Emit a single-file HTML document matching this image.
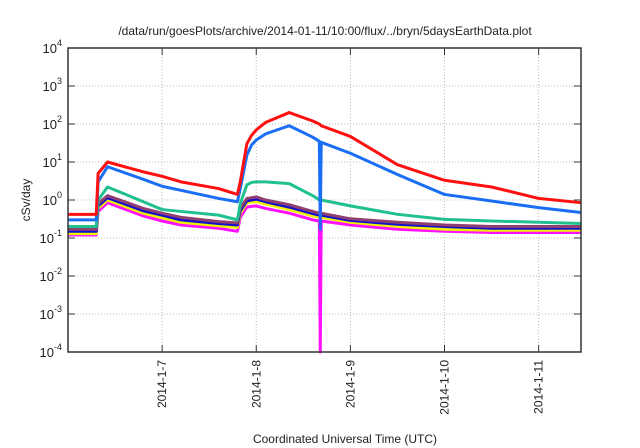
<!DOCTYPE html>
<html><head><meta charset="utf-8"><style>
body{margin:0;background:#fff}
svg{display:block;font-family:"Liberation Sans",sans-serif}
</style></head><body>
<svg id="c" width="640" height="448">
<text x="325" y="35" text-anchor="middle" font-size="12" fill="#222">/data/run/goesPlots/archive/2014-01-11/10:00/flux/../bryn/5daysEarthData.plot</text>
<text x="345" y="443" text-anchor="middle" font-size="12" fill="#222">Coordinated Universal Time (UTC)</text>
<text transform="translate(30,200) rotate(-90)" text-anchor="middle" font-size="12" fill="#222">cSv/day</text>
<g id="grid"></g><g id="series"></g><g id="axes"></g>
</svg>
<script>
const times=[0,0.3,0.32,0.42,0.8,1.0,1.2,1.6,1.8,1.83,1.9,1.95,2.0,2.1,2.35,2.6,2.67,2.68,2.69,3.0,3.5,4.0,4.5,5.0,5.45];
const red=[0.42,0.42,5,10,5.5,4.2,3,2,1.4,3,30,50,70,110,200,120,100,95,90,47,8.5,3.3,2.2,1.1,0.85];
const blue=[0.3,0.3,3,7.5,3.5,2.3,1.8,1.1,0.9,2,15,28,38,55,90,45,35,0.17,33,17,4.7,1.4,0.94,0.63,0.47];
const teal=[0.2,0.2,1,2.2,0.9,0.56,0.5,0.4,0.3,0.8,2.5,2.9,3,3,2.7,1.3,1.0,1.0,1.0,0.7,0.42,0.31,0.28,0.26,0.24];
const purple=[0.17,0.17,0.8,1.3,0.6,0.45,0.35,0.27,0.25,0.6,1.1,1.15,1.2,1.0,0.75,0.5,0.45,0.45,0.45,0.32,0.26,0.22,0.2,0.2,0.2];
const navy=[0.15,0.15,0.7,1.15,0.52,0.4,0.3,0.24,0.22,0.52,0.95,1.0,1.05,0.9,0.65,0.44,0.4,0.4,0.4,0.29,0.23,0.2,0.18,0.18,0.18];
const yellow=[0.13,0.13,0.6,1.0,0.45,0.34,0.26,0.21,0.19,0.45,0.85,0.88,0.9,0.78,0.56,0.38,0.35,0.35,0.35,0.26,0.2,0.17,0.16,0.16,0.16];
const magenta=[0.12,0.12,0.5,0.85,0.38,0.28,0.22,0.18,0.15,0.35,0.65,0.68,0.7,0.6,0.45,0.3,0.28,0.00001,0.28,0.22,0.17,0.15,0.14,0.14,0.14];
const xTicks=["2014-1-7","2014-1-8","2014-1-9","2014-1-10","2014-1-11"];
const xTickVals=[1,2,3,4,5];
const yTickExp=[4,3,2,1,0,-1,-2,-3,-4];
const L=68,R=581,T=48,B=352,X0=0,X1=5.45;
const sx=t=>L+(t-X0)/(X1-X0)*(R-L);
const sy=v=>{let e=Math.log10(v);e=Math.max(-4,Math.min(4,e));return B-(e+4)/8*(B-T);};
const NS="http://www.w3.org/2000/svg";
function mk(p,tag,a){const e=document.createElementNS(NS,tag);for(const k in a)e.setAttribute(k,a[k]);p.appendChild(e);return e;}
const grid=document.getElementById('grid'),axes=document.getElementById('axes'),ser=document.getElementById('series');
yTickExp.forEach(e=>{const y=sy(Math.pow(10,e));
 if(e<4&&e>-4){const g=mk(grid,'line',{x1:L,x2:R,y1:y,y2:y,stroke:'#bbb','stroke-dasharray':'1,2'});
 
 }
 mk(axes,'line',{x1:L,x2:L+7,y1:y,y2:y,stroke:'#333'});mk(axes,'line',{x1:R,x2:R-7,y1:y,y2:y,stroke:'#333'});
 const t=mk(axes,'text',{x:L-6,y:y+5,'text-anchor':'end','font-size':'13',fill:'#222'});
 
 
 t.innerHTML='10<tspan dy="-7" font-size="9">'+e+'</tspan>';});
xTickVals.forEach((v,i)=>{const x=sx(v);
 const g=mk(grid,'line',{x1:x,x2:x,y1:T,y2:B,stroke:'#bbb','stroke-dasharray':'1,2'});
 
 
 mk(axes,'line',{x1:x,x2:x,y1:B,y2:B-7,stroke:'#333'});mk(axes,'line',{x1:x,x2:x,y1:T,y2:T+7,stroke:'#333'});
 const t=mk(axes,'text',{transform:`translate(${x+4},${B+8}) rotate(-90)`,'text-anchor':'end','font-size':'12',fill:'#222'});
 
 
 t.textContent=xTicks[i];});
const fr=mk(axes,'rect',{x:L,y:T,width:R-L,height:B-T,fill:'none',stroke:'#333','stroke-width':1.5});


const list=[[red,'#ff1010','series-red'],[blue,'#1a6ef5','series-blue'],[teal,'#20c090','series-teal'],[purple,'#904070','series-purple'],[navy,'#1010d0','series-navy'],[yellow,'#f0f000','series-yellow'],[magenta,'#ff10ff','series-magenta']];
[...list].reverse().forEach(([d,c,n])=>{
 const p=mk(ser,'polyline',{points:times.map((t,i)=>sx(t)+','+sy(d[i])).join(' '),fill:'none',stroke:c,'stroke-width':3,'stroke-linejoin':'round'});
 
 });
</script>
</body></html>
